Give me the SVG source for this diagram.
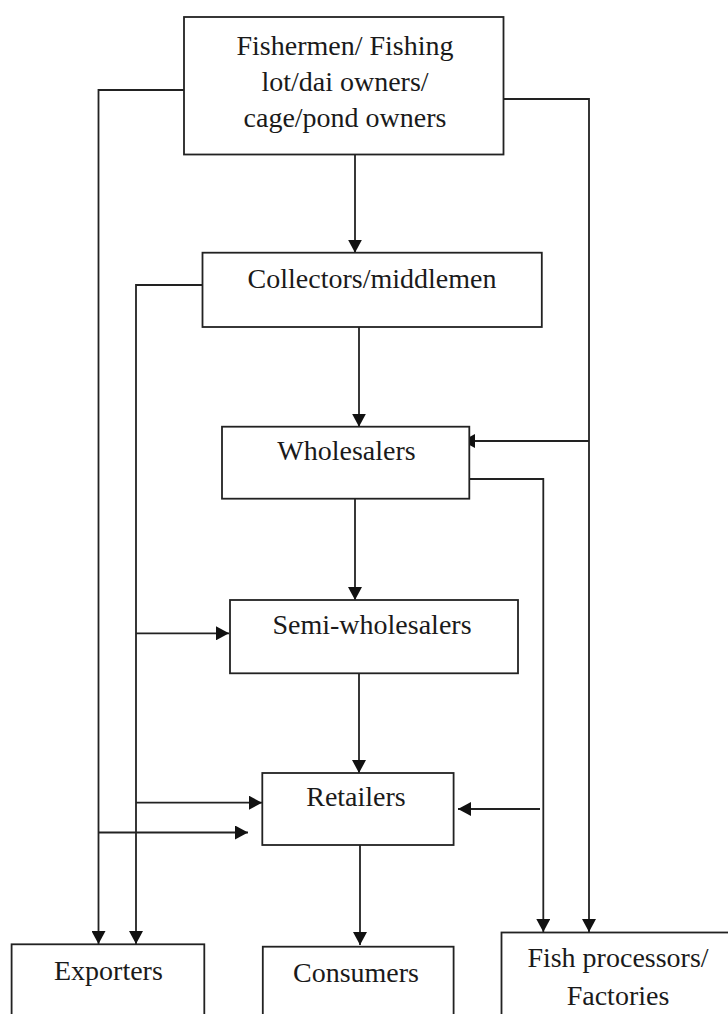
<svg xmlns="http://www.w3.org/2000/svg" width="728" height="1014" viewBox="0 0 728 1014">
<style>
.box{fill:#fff;stroke:#222;stroke-width:1.8}
.lbl{font-family:"Liberation Serif","Times New Roman",serif;font-size:28px;fill:#1a1a1a;text-anchor:middle}
.con{fill:none;stroke:#222;stroke-width:1.8}
.arr{marker-end:url(#ah)}
</style>
<defs>
<marker id="ah" markerUnits="userSpaceOnUse" markerWidth="14" markerHeight="14" refX="13" refY="7" orient="auto">
<path d="M0,0 L13,7 L0,14 Z" fill="#111"/>
</marker>
</defs>
<rect width="728" height="1014" fill="#fff"/>
<g id="connectors">
<path class="con arr" d="M184,90 H98.5 V944"/>
<path class="con arr" d="M503.5,99 H589 V932"/>
<path class="con arr" d="M355,154.5 V252.7"/>
<path class="con arr" d="M202.5,285 H136 V944"/>
<path class="con arr" d="M359,327 V426.7"/>
<path class="con arr" d="M589,441 H462"/>
<path class="con arr" d="M469.5,479 H543.3 V932"/>
<path class="con arr" d="M355,498.7 V600"/>
<path class="con arr" d="M136,633.3 H229"/>
<path class="con arr" d="M359,673.3 V773"/>
<path class="con arr" d="M136,802.7 H262"/>
<path class="con arr" d="M98.5,832.5 H248"/>
<path class="con arr" d="M540,809 H458"/>
<path class="con arr" d="M360,845 V945"/>
</g>
<g id="fishermen">
<rect class="box" x="184" y="17" width="319.5" height="137.5"/>
<text class="lbl" x="345" y="55">Fishermen/ Fishing</text>
<text class="lbl" x="345" y="91">lot/dai owners/</text>
<text class="lbl" x="345" y="127">cage/pond owners</text>
</g>
<g id="collectors">
<rect class="box" x="202.5" y="252.7" width="339.3" height="74.3"/>
<text class="lbl" x="372" y="288">Collectors/middlemen</text>
</g>
<g id="wholesalers">
<rect class="box" x="222" y="426.7" width="247.3" height="72"/>
<text class="lbl" x="346.5" y="460">Wholesalers</text>
</g>
<g id="semi-wholesalers">
<rect class="box" x="230" y="600" width="288" height="73.3"/>
<text class="lbl" x="372" y="634">Semi-wholesalers</text>
</g>
<g id="retailers">
<rect class="box" x="262.3" y="773" width="191.3" height="72"/>
<text class="lbl" x="356" y="806">Retailers</text>
</g>
<g id="exporters">
<rect class="box" x="11.6" y="944.3" width="192.7" height="80"/>
<text class="lbl" x="108.4" y="980">Exporters</text>
</g>
<g id="consumers">
<rect class="box" x="262.8" y="946.7" width="190.8" height="80"/>
<text class="lbl" x="356" y="982">Consumers</text>
</g>
<g id="fish-processors">
<rect class="box" x="501.5" y="932.5" width="240" height="90"/>
<text class="lbl" x="618" y="967">Fish processors/</text>
<text class="lbl" x="618" y="1005">Factories</text>
</g>
</svg>
